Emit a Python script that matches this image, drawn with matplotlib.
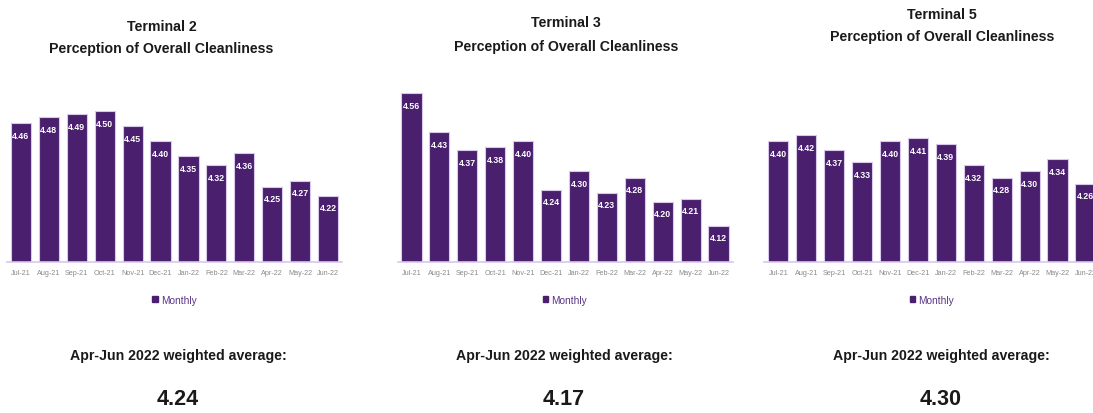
import matplotlib
matplotlib.use("Agg")
import matplotlib.pyplot as plt
from matplotlib.patches import Patch

plt.rcParams["font.family"] = ["Liberation Sans", "DejaVu Sans"]

months = ["Jul-21", "Aug-21", "Sep-21", "Oct-21", "Nov-21", "Dec-21",
          "Jan-22", "Feb-22", "Mar-22", "Apr-22", "May-22", "Jun-22"]

terminals = ["Terminal 2", "Terminal 3", "Terminal 5"]
t2_monthly = [4.46, 4.48, 4.49, 4.50, 4.45, 4.40, 4.35, 4.32, 4.36, 4.25, 4.27, 4.22]
t3_monthly = [4.56, 4.43, 4.37, 4.38, 4.40, 4.24, 4.30, 4.23, 4.28, 4.20, 4.21, 4.12]
t5_monthly = [4.40, 4.42, 4.37, 4.33, 4.40, 4.41, 4.39, 4.32, 4.28, 4.30, 4.34, 4.26]
weighted_avg = [4.24, 4.17, 4.30]

BAR = "#4a1f6d"
EDGE = "#d8c8ea"

W, H = 1093, 414
fig = plt.figure(figsize=(W / 100, H / 100), dpi=100)

# layout in pixels: axes left edge, title centre x, title y's, bottom text centre x
panels = [
    dict(data=t2_monthly, ax_left=7.0, tx=161.5, ty=(26.7, 49.3), bx=178),
    dict(data=t3_monthly, ax_left=397.5, tx=566, ty=(23, 46.5), bx=564),
    dict(data=t5_monthly, ax_left=764.4, tx=942, ty=(15, 37), bx=941),
]
ax_w = 335.0
base_y = 262.7
ax_h = 0.6 * 300.7

for i, p in enumerate(panels):
    ax = fig.add_axes([p["ax_left"] / W, (H - base_y) / H, ax_w / W, ax_h / H])
    x = range(len(months))
    bars = ax.bar(x, p["data"], width=0.72, color=BAR, edgecolor=EDGE, linewidth=0.8)
    for xi, v in zip(x, p["data"]):
        ax.annotate(f"{v:.2f}", (xi, v), xytext=(0, -8.5), textcoords="offset points",
                    ha="center", va="center", color="white", fontsize=6.3,
                    fontweight="bold")
    ax.set_xlim(-0.5, 11.5)
    ax.set_ylim(4.0, 4.6)
    ax.set_xticks(list(x))
    ax.set_xticklabels(months, fontsize=5.2, color="#8a8a8a")
    ax.tick_params(axis="x", length=0, pad=5)
    ax.set_yticks([])
    for s in ["top", "right", "left"]:
        ax.spines[s].set_visible(False)
    ax.spines["bottom"].set_color(EDGE)
    ax.spines["bottom"].set_linewidth(1.2)
    ax.patch.set_alpha(0)
    leg = ax.legend(handles=[Patch(color=BAR, label="Monthly")], loc="center",
                    bbox_to_anchor=(0.5, -0.21), frameon=False, fontsize=7.3,
                    handlelength=0.55, handleheight=0.55, handletextpad=0.3,
                    labelcolor="#5a3585")

    fig.text(p["tx"] / W, 1 - p["ty"][0] / H, terminals[i], ha="center", va="center",
             fontsize=10.2, fontweight="bold", color="#1a1a1a")
    fig.text(p["tx"] / W, 1 - p["ty"][1] / H, "Perception of Overall Cleanliness",
             ha="center", va="center", fontsize=10.2, fontweight="bold", color="#1a1a1a")
    fig.text(p["bx"] / W, 1 - 356 / H, "Apr-Jun 2022 weighted average:", ha="center",
             va="center", fontsize=10.2, fontweight="bold", color="#1a1a1a")
    fig.text(p["bx"] / W, 1 - 400 / H, f"{weighted_avg[i]:.2f}", ha="center",
             va="center", fontsize=15.5, fontweight="bold", color="#1a1a1a")

fig.savefig("out.png", dpi=100)
